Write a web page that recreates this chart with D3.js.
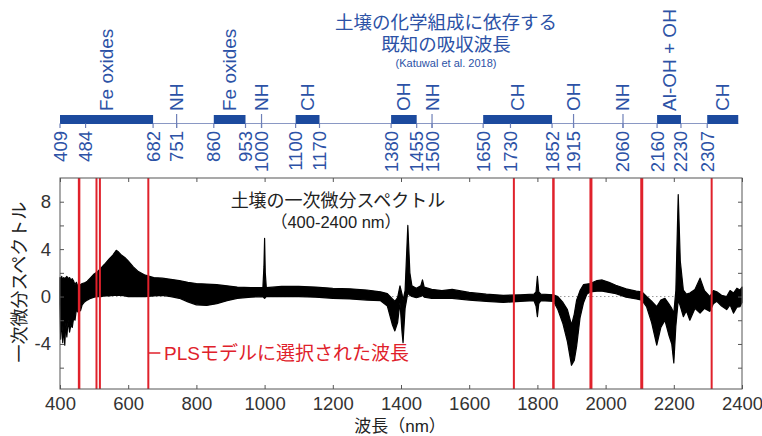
<!DOCTYPE html>
<html>
<head>
<meta charset="utf-8">
<script src="https://cdn.jsdelivr.net/npm/d3@7"></script>
<style>
  body { margin: 0; background: #fff; }
  svg { display: block; font-family: "Liberation Sans", Arial, "Noto Sans CJK JP", sans-serif; }
</style>
</head>
<body>
<svg id="chart" width="762" height="436"></svg>
<script>
// spectra envelope (wavelength nm, upper / lower of all curves)
const wavelengths = [400,402,405,408,411,414,417,420,424,428,432,436,440,444,448,452,456,460,465,472,480,490,500,510,520,530,545,555,565,570,580,590,600,615,630,650,675,700,725,750,775,800,830,860,890,920,960,995,998,1000,1002,1005,1050,1100,1150,1200,1250,1300,1340,1360,1375,1382,1390,1397,1403,1406,1412,1420,1426,1432,1445,1458,1463,1468,1490,1520,1550,1600,1650,1700,1750,1790,1796,1800,1804,1810,1847,1860,1875,1888,1900,1908,1915,1925,1935,1945,1955,1975,1990,2010,2030,2060,2090,2106,2120,2135,2150,2162,2174,2185,2194,2200,2206,2213,2219,2228,2237,2247,2262,2277,2290,2306,2316,2326,2340,2355,2365,2375,2385,2394,2400];
const upper = [1.6,1.5,1.7,1.4,1.6,1.5,1.6,1.7,1.5,1.6,1.4,1.5,1.3,1.0,1.2,0.9,1.0,1.0,1.1,1.15,1.3,1.6,1.9,2.1,2.4,2.7,3.2,3.5,3.9,3.8,3.5,3.3,3.0,2.5,2.1,1.8,1.6,1.55,1.45,1.35,1.2,1.1,1.05,1.0,0.9,0.8,0.75,0.75,2.5,4.9,2.0,0.75,0.85,0.85,0.8,0.7,0.65,0.55,0.4,0.25,-0.2,-0.4,-0.1,0.9,0.2,-0.3,0.5,6.0,2.0,0.9,0.7,0.9,1.4,0.8,0.6,0.5,0.6,0.35,0.2,0.1,0.15,0.2,0.4,1.7,0.4,0.2,0.15,0.0,-0.5,-1.1,-2.4,-1.5,-0.3,0.5,1.0,1.05,1.1,1.35,1.4,1.2,0.95,0.65,0.45,0.4,0.0,-0.4,-0.85,-0.3,-0.15,-0.6,-1.0,-1.4,0.5,8.6,3.0,0.55,0.2,0.3,0.6,1.55,0.5,0.0,0.5,0.4,0.1,0.0,0.5,0.3,0.7,0.55,0.8];
const lower = [-0.6,-3.6,-1.8,-3.9,-2.6,-4.1,-2.2,-3.4,-2.0,-3.0,-2.4,-2.6,-1.8,-2.0,-1.1,-1.3,-0.9,-1.2,-0.7,-0.45,-0.3,-0.15,-0.05,0.0,0.0,0.05,0.05,0.1,0.1,0.1,0.1,0.05,0.0,0.0,0.0,0.0,0.05,0.1,0.0,-0.15,-0.45,-0.7,-0.75,-0.6,-0.35,-0.15,-0.05,0.0,-0.1,-0.15,-0.1,0.0,0.0,0.0,-0.05,-0.15,-0.2,-0.3,-0.35,-0.8,-2.4,-2.9,-2.2,-0.5,-3.0,-3.9,-1.0,0.3,0.1,0.0,-0.1,0.0,0.1,-0.05,-0.15,-0.15,-0.15,-0.3,-0.4,-0.5,-0.4,-0.35,-0.8,-1.7,-0.6,-0.35,-0.4,-1.1,-2.3,-3.8,-5.8,-5.4,-4.2,-1.8,-0.55,0.2,0.4,0.45,0.45,0.35,0.25,-0.05,-0.2,-0.3,-0.85,-2.2,-4.1,-2.6,-2.0,-3.2,-4.0,-5.6,-2.5,-0.3,-0.8,-1.7,-1.2,-2.0,-1.0,-1.4,-1.0,-1.25,-0.6,-0.4,-0.8,-1.1,-0.7,-1.4,-0.9,-0.85,-0.5];

// wavelengths selected by the PLS model, with drawn width
const plsWavelengths = [456, 507, 517, 659, 1731, 1847, 1957, 2106, 2311];
const plsWidths = [2.5, 2, 2, 2, 2, 2.5, 3, 3, 2];

// known absorption wavelengths (Katuwal et al. 2018)
const bandStarts = [409, 860, 1100, 1380, 1650, 2160, 2307];
const bandEnds = [682, 953, 1170, 1455, 1852, 2230, 2398];
const bandNames = ["Fe oxides", "Fe oxides", "CH", "OH", "CH", "Al-OH + OH", "CH"];
const lineWavelengths = [751, 1000, 1500, 1915, 2060];
const lineNames = ["NH", "NH", "NH", "OH", "NH"];
const topTicks = [409, 484, 682, 751, 860, 953, 1000, 1100, 1170, 1380, 1455, 1500, 1650, 1730, 1852, 1915, 2060, 2160, 2230, 2307];

const xTicks = [400, 600, 800, 1000, 1200, 1400, 1600, 1800, 2000, 2200, 2400];
const yTicks = [-6, -4, -2, 0, 2, 4, 6, 8];
const yLabels = [-4, 0, 4, 8];

const svg = d3.select("#chart");
const pLeft = 60, pRight = 742, pTop = 178, pBottom = 389;
const blue = "#2c52a6", bandBlue = "#1c4a9e", red = "#e0212b";
const jp = "Liberation Sans, Noto Sans CJK JP, sans-serif";

const x = d3.scaleLinear().domain([400, 2400]).range([pLeft, pRight]);
const xTop = d3.scaleLinear().domain([409, 2409]).range([pLeft, pRight]);
const y = d3.scaleLinear().domain([-7.8, 10]).range([pBottom, pTop]);

// title
const title = svg.append("g").attr("fill", blue).attr("text-anchor", "middle");
title.append("text").attr("x", 446).attr("y", 29).attr("font-size", 18.5)
    .attr("font-family", jp).text("土壌の化学組成に依存する");
title.append("text").attr("x", 446).attr("y", 51).attr("font-size", 18.5)
    .attr("font-family", jp).text("既知の吸収波長");
title.append("text").attr("x", 446).attr("y", 67).attr("font-size", 11)
    .text("(Katuwal et al. 2018)");

// top band axis
const topY = 123.5;
svg.append("line").attr("x1", pLeft).attr("x2", xTop(2398)).attr("y1", topY).attr("y2", topY)
    .attr("stroke", "#8a98c4").attr("stroke-width", 1.2);
bandStarts.forEach((s, i) => {
    svg.append("rect").attr("x", xTop(s)).attr("y", 115)
        .attr("width", xTop(bandEnds[i]) - xTop(s)).attr("height", 9).attr("fill", bandBlue);
    svg.append("text").attr("transform", `translate(${xTop((s + bandEnds[i]) / 2) + 6.5},111) rotate(-90)`)
        .attr("fill", blue).attr("font-size", 19).text(bandNames[i]);
});
lineWavelengths.forEach((w, i) => {
    svg.append("line").attr("x1", xTop(w)).attr("x2", xTop(w)).attr("y1", 114).attr("y2", 128)
        .attr("stroke", "#6f80b8").attr("stroke-width", 1.2);
    svg.append("text").attr("transform", `translate(${xTop(w) + 6.5},111) rotate(-90)`)
        .attr("fill", blue).attr("font-size", 19).text(lineNames[i]);
});
topTicks.forEach(w => {
    svg.append("line").attr("x1", xTop(w)).attr("x2", xTop(w)).attr("y1", topY).attr("y2", 128)
        .attr("stroke", "#6f80b8").attr("stroke-width", 1.2);
    svg.append("text").attr("transform", `translate(${xTop(w) + 6.5},131) rotate(-90)`)
        .attr("fill", blue).attr("font-size", 18.5).attr("text-anchor", "end").text(w);
});

// spectra
const spec = wavelengths.map((w, i) => ({w: w, hi: upper[i], lo: lower[i]}));
svg.append("line").attr("x1", pLeft).attr("x2", pRight).attr("y1", y(0)).attr("y2", y(0))
    .attr("stroke", "#999").attr("stroke-dasharray", "1.5,2.5");
svg.append("path").datum(spec)
    .attr("d", d3.area().x(d => x(d.w)).y0(d => y(d.lo)).y1(d => y(d.hi)))
    .attr("fill", "#000").attr("stroke", "#000").attr("stroke-width", 1.2)
    .attr("stroke-linejoin", "round");

// PLS lines
plsWavelengths.forEach((w, i) => {
    svg.append("line").attr("x1", x(w)).attr("x2", x(w)).attr("y1", pTop).attr("y2", pBottom)
        .attr("stroke", red).attr("stroke-width", plsWidths[i]);
});

// frame + axes
svg.append("rect").attr("x", pLeft).attr("y", pTop).attr("width", pRight - pLeft).attr("height", pBottom - pTop)
    .attr("fill", "none").attr("stroke", "#555").attr("stroke-width", 1);
const xAxis = svg.append("g").attr("transform", `translate(0,${pBottom})`)
    .call(d3.axisBottom(x).tickValues(xTicks).tickSizeInner(-4).tickSizeOuter(0).tickPadding(8)
        .tickFormat(d3.format("d")));
const xAxisTop = svg.append("g").attr("transform", `translate(0,${pTop})`)
    .call(d3.axisTop(x).tickValues(xTicks).tickSizeInner(-4).tickSizeOuter(0).tickFormat(""));
const yAxis = svg.append("g").attr("transform", `translate(${pLeft},0)`)
    .call(d3.axisLeft(y).tickValues(yTicks).tickSizeInner(-4).tickSizeOuter(0).tickPadding(9)
        .tickFormat(d => yLabels.includes(d) ? d : ""));
const yAxisRight = svg.append("g").attr("transform", `translate(${pRight},0)`)
    .call(d3.axisRight(y).tickValues(yTicks).tickSizeInner(-4).tickSizeOuter(0).tickFormat(""));
[xAxis, xAxisTop, yAxis, yAxisRight].forEach(g => {
    g.select(".domain").remove();
    g.selectAll("line").attr("stroke", "#555");
    g.selectAll("text").attr("font-size", 18.5).attr("fill", "#333")
        .attr("font-family", "Liberation Sans, Arial, sans-serif");
});

// axis titles
svg.append("text").attr("x", 400).attr("y", 432).attr("text-anchor", "middle")
    .attr("font-size", 17).attr("fill", "#222").attr("font-family", jp).text("波長（nm）");
svg.append("text").attr("transform", "translate(26,282) rotate(-90)").attr("text-anchor", "middle")
    .attr("font-size", 18).attr("fill", "#222").attr("font-family", jp).text("一次微分スペクトル");

// annotations
svg.append("text").attr("x", 338).attr("y", 207).attr("text-anchor", "middle")
    .attr("font-size", 18).attr("fill", "#222").attr("font-family", jp).text("土壌の一次微分スペクトル");
svg.append("text").attr("x", 336).attr("y", 228).attr("text-anchor", "middle")
    .attr("font-size", 16.5).attr("fill", "#222").attr("font-family", jp).text("（400-2400 nm）");
svg.append("line").attr("x1", x(659)).attr("x2", x(659) + 12).attr("y1", 353).attr("y2", 353)
    .attr("stroke", red).attr("stroke-width", 1.5);
svg.append("text").attr("x", 164).attr("y", 360)
    .attr("font-size", 19).attr("fill", red).attr("font-family", jp).text("PLSモデルに選択された波長");
</script>
</body>
</html>
